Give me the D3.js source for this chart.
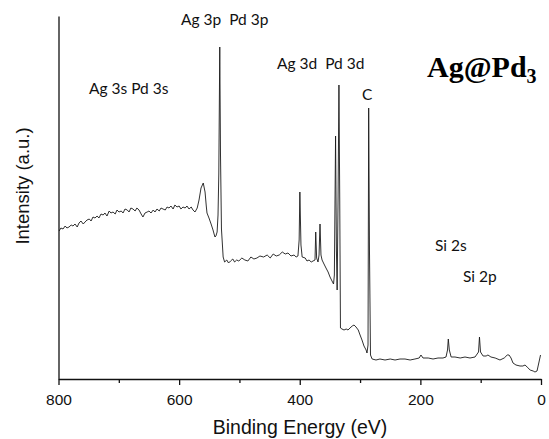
<!DOCTYPE html>
<html>
<head>
<meta charset="utf-8">
<script src="https://cdn.jsdelivr.net/npm/d3@7"></script>
<style>
  html, body { margin: 0; padding: 0; background: #fff; }
  svg { display: block; }
</style>
</head>
<body>
<svg id="chart" width="549" height="439"></svg>
<script>
// Binding energy (eV) of each sampled point
const energy = [
  799,796,792.5,789,786,782.6,779,776,772.6,769,766,762.7,759,756,752.7,749,746,742.8,739.5,736,
  733,729.5,726,723,719.6,716,713,709.6,706,703,699.7,696,693,689.7,686,683,680,676.5,673,670,
  666.5,663,660,656.6,653,650,646.6,643,640,636.7,633,630,626.7,623,620,616.8,613.5,610,607,603.5,
  600,597,593.6,590,587,583.6,580,577,573.7,570,567,563.7,560,557,555,553.8,550.5,547,543.8,542,
  540.6,539,537,535.5,534.2,532.6,531.4,529.8,528.2,527,
  524.6,521,518,514.7,511,508,504.6,501,496,491,486,481,476,471,466,460,454,449,444,439,434,429,424,419.5,414.5,409.5,406,403,
  401,399.8,398,396,391,388,384.6,381,378,374.7,373.5,372,369.7,368,366.4,364.8,363,359.8,356.5,353,349.8,346.5,344,342.6,
  340.6,339.2,338,336.5,335,333.7,332.5,330,326.6,323,320,316.7,313,310,306.7,303,300,296.8,293.5,290,288.5,286.8,285.7,284.4,282.7,280,
  273.6,267,258.6,250,242,233.8,225.5,217,209,202,199,195.6,187,179,170.8,162.5,157.5,155,153.7,152,149,142.6,134,126,117.7,109.4,
  103.6,102,100.3,96,91,88,83,76,68,61,56,53,49.7,46.4,41.5,34.8,30,26.5,23,18,13,10,6.6,3.3,0.8
];
// Intensity (a.u.) of each sampled point
const intensity = [
  148,151,150,153,151,152,154,153,155,152,156,158,155,157,159,160,158,162,161,163,
  161,165,164,166,163,168,166,167,165,169,167,168,166,170,169,167,171,170,168,171,
  169,165,162,166,167,168,166,169,167,170,168,171,170,169,172,171,173,170,174,172,
  173,170,172,171,173,170,172,169,167,171,179,191,196,187,173,166,161,155,149,145,
  142,143,147,164,205,332,225,150,134,122,
  117,119,116,118,120,117,119,118,121,119,118,122,120,121,123,122,124,121,125,123,124,127,125,126,123,124,122,123,
  139,187,134,122,121,118,119,117,118,119,147,121,117,124,155,124,119,115,111,107,102,98,95,104,
  243,129,89,179,294,179,51,50,49,50,49,51,53,54,52,49,44,39,33,29,26,34,271,129,24,20,
  19,20,19,20,19,20,20,19,20,21,24,21,21,20,21,21,22,29,40,29,22,22,21,22,21,22,
  27,42,27,23,23,24,22,21,19,21,24,24,21,16,14,13,13,14,12,9,8,7,8,17,24
];
// Axis ticks
const xMajorTicks = [800, 600, 400, 200, 0];
const xMinorTicks = [700, 500, 300, 100];
// Peak annotations
const peakLabels = ["Ag 3s Pd 3s", "Ag 3p  Pd 3p", "Ag 3d  Pd 3d", "C", "Si 2s", "Si 2p"];
const peakLabelPos = [[89, 94], [181, 25], [277, 69], [362, 100], [435, 251], [463, 282]];

const svg = d3.select("#chart");
const x = d3.scaleLinear().domain([800, 0]).range([58.5, 541]);
const y = d3.scaleLinear().domain([0, 363]).range([379, 16]);

const data = energy.map((e, i) => [e, intensity[i]]);

// spectrum line
svg.append("path")
  .datum(data)
  .attr("fill", "none")
  .attr("stroke", "#1a1a1a")
  .attr("stroke-width", 0.9)
  .attr("stroke-linejoin", "round")
  .attr("d", d3.line().x(d => x(d[0])).y(d => y(d[1])));

// x axis
const xAxis = svg.append("g").attr("transform", "translate(0,379)");
xAxis.call(d3.axisBottom(x).tickValues(xMajorTicks).tickSize(6).tickSizeOuter(0).tickFormat(d3.format("d")));
xAxis.select(".domain").attr("stroke", "#111").attr("stroke-width", 1.3);
xAxis.selectAll(".tick line").attr("stroke", "#111").attr("stroke-width", 1.3);
xAxis.selectAll(".tick text")
  .attr("font-family", "'Liberation Sans', Arial, sans-serif")
  .attr("font-size", 15.5).attr("fill", "#111").attr("dy", null).attr("y", 25.5);
const xMinor = svg.append("g").attr("transform", "translate(0,379)");
xMinor.call(d3.axisBottom(x).tickValues(xMinorTicks).tickSize(4).tickFormat(""));
xMinor.select(".domain").remove();
xMinor.selectAll(".tick line").attr("stroke", "#111").attr("stroke-width", 1.3);

// y axis (no ticks)
const yAxis = svg.append("g").attr("transform", "translate(58.5,0)");
yAxis.call(d3.axisLeft(y).tickValues([]).tickSizeOuter(0));
yAxis.select(".domain").attr("stroke", "#111").attr("stroke-width", 1.3);

// axis titles
svg.append("text")
  .attr("x", 300).attr("y", 434)
  .attr("text-anchor", "middle")
  .attr("font-family", "'Liberation Sans', Arial, sans-serif")
  .attr("font-size", 19.5).attr("fill", "#111")
  .text("Binding Energy (eV)");
svg.append("text")
  .attr("transform", "translate(29,186) rotate(-90)")
  .attr("text-anchor", "middle")
  .attr("font-family", "'Liberation Sans', Arial, sans-serif")
  .attr("font-size", 18.5).attr("fill", "#111")
  .text("Intensity (a.u.)");

// peak labels
peakLabels.forEach((t, i) => {
  svg.append("text")
    .attr("x", peakLabelPos[i][0]).attr("y", peakLabelPos[i][1])
    .attr("font-family", "Lato, 'Open Sans', sans-serif")
    .attr("font-size", 15.5).attr("fill", "#111")
    .attr("xml:space", "preserve")
    .style("white-space", "pre")
    .text(t);
});

// sample title
const title = svg.append("text")
  .attr("x", 427).attr("y", 77)
  .attr("font-family", "'Liberation Serif', 'Times New Roman', serif")
  .attr("font-weight", "bold")
  .attr("font-size", 30).attr("fill", "#000");
title.append("tspan").text("Ag@Pd");
title.append("tspan").attr("font-size", 20).attr("dy", 6).text("3");
</script>
</body>
</html>
